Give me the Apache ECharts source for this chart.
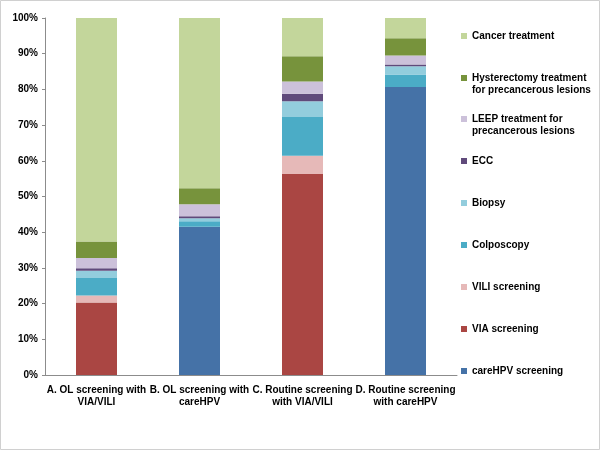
<!DOCTYPE html>
<html>
<head>
<meta charset="utf-8">
<script src="https://cdn.jsdelivr.net/npm/echarts@6/dist/echarts.min.js"></script>
<style>html,body{margin:0;padding:0;background:#fff}#c{width:600px;height:450px}</style>
</head>
<body>
<div id="c"></div>
<script>
var categories = ['A. OL screening with\nVIA/VILI', 'B. OL screening with\ncareHPV', 'C. Routine screening\nwith VIA/VILI', 'D. Routine screening\nwith careHPV'];
var careHPV = [0, 41.5, 0, 80.7];
var via = [20.3, 0, 56.3, 0];
var vili = [2.0, 0, 5.1, 0];
var colposcopy = [4.9, 1.6, 10.9, 3.5];
var biopsy = [2.0, 0.8, 4.4, 2.3];
var ecc = [0.7, 0.6, 2.1, 0.5];
var leep = [2.9, 3.3, 3.4, 2.5];
var hysterectomy = [4.6, 4.5, 7.1, 4.8];
var cancer = [62.6, 47.7, 10.7, 5.7];
var yTicks = [0, 10, 20, 30, 40, 50, 60, 70, 80, 90, 100];

var seriesDefs = [
  {name: 'careHPV screening', data: careHPV, color: '#4572A7', legendTop: 365, two: false},
  {name: 'VIA screening', data: via, color: '#AA4643', legendTop: 323, two: false},
  {name: 'VILI screening', data: vili, color: '#E6B9B8', legendTop: 281, two: false},
  {name: 'Colposcopy', data: colposcopy, color: '#4BACC6', legendTop: 239, two: false},
  {name: 'Biopsy', data: biopsy, color: '#93CDDD', legendTop: 197, two: false},
  {name: 'ECC', data: ecc, color: '#604A7B', legendTop: 155, two: false},
  {name: 'LEEP treatment for precancerous lesions', label: 'LEEP treatment for\nprecancerous lesions', data: leep, color: '#CCC1DA', legendTop: 113, two: true},
  {name: 'Hysterectomy treatment for precancerous lesions', label: 'Hysterectomy treatment\nfor precancerous lesions', data: hysterectomy, color: '#77933C', legendTop: 72, two: true},
  {name: 'Cancer treatment', data: cancer, color: '#C3D69B', legendTop: 30, two: false}
];

var series = seriesDefs.map(function (d) {
  return {
    name: d.name, type: 'bar', stack: 'total', data: d.data, barWidth: 41,
    itemStyle: {color: d.color}, emphasis: {disabled: true}
  };
});

var legends = seriesDefs.map(function (d) {
  return {
    orient: 'vertical', left: 461, top: d.legendTop, padding: 0,
    selectedMode: false,
    itemWidth: 6, itemHeight: d.two ? 24 : 6,
    icon: d.two ? 'path://M0,0M0,3h6v6h-6zM0,24' : 'rect',
    formatter: d.label ? d.label : '{name}',
    data: [d.name],
    textStyle: {fontFamily: 'Liberation Sans, Arial', fontWeight: 'bold', fontSize: 10, color: '#000', lineHeight: 12}
  };
});

var chart = echarts.init(document.getElementById('c'), null, {renderer: 'canvas'});
chart.setOption({
  animation: false,
  backgroundColor: '#fff',
  grid: {left: 45, right: 143, top: 18, bottom: 75, containLabel: false},
  legend: legends,
  xAxis: {
    type: 'category', data: categories,
    axisLine: {lineStyle: {color: '#8C8C8C', width: 1}},
    axisTick: {show: false},
    axisLabel: {interval: 0, margin: 9, color: '#000', fontFamily: 'Liberation Sans, Arial', fontWeight: 'bold', fontSize: 10, lineHeight: 12}
  },
  yAxis: {
    type: 'value', min: 0, max: 100, interval: 10,
    axisLine: {show: true, lineStyle: {color: '#8C8C8C', width: 1}},
    axisTick: {show: true, length: 3, lineStyle: {color: '#8C8C8C'}},
    splitLine: {show: false},
    axisLabel: {margin: 7, color: '#000', fontFamily: 'Liberation Sans, Arial', fontWeight: 'bold', fontSize: 10,
      formatter: function (v) { return yTicks.indexOf(v) >= 0 ? v + '%' : ''; }}
  },
  series: series,
  graphic: [{type: 'rect', shape: {x: 0.5, y: 0.5, width: 599, height: 449}, style: {fill: 'none', stroke: '#D0D0D0', lineWidth: 1}, silent: true}]
});
</script>
</body>
</html>
